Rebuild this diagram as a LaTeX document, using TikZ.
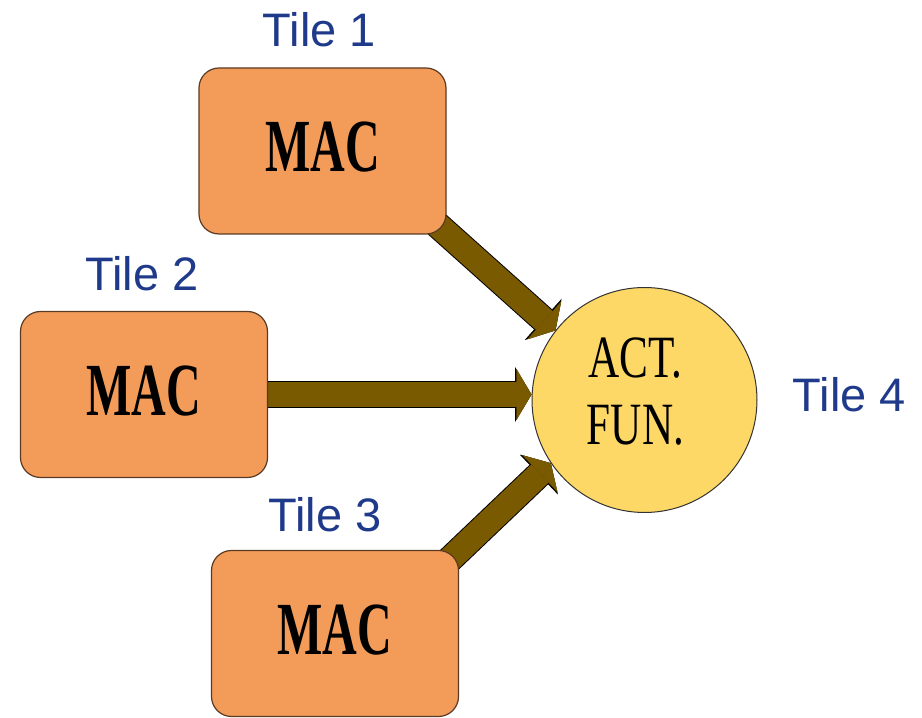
\documentclass[tikz,border=0pt]{standalone}
\usepackage{fontspec}
\setmainfont{Liberation Sans}
\newfontfamily\macfont[FakeStretch=0.64]{Liberation Serif}
\newfontfamily\actfont[FakeStretch=0.72]{Liberation Serif}
\usepackage{tikz}
\usetikzlibrary{arrows.meta}
\pgfdeclarelayer{background}
\pgfsetlayers{background,main}
\definecolor{macorange}{HTML}{F39C5A}
\definecolor{macborder}{HTML}{5A3A22}
\definecolor{actyellow}{HTML}{FDD866}
\definecolor{arrowbrown}{HTML}{7A5A00}
\definecolor{tileblue}{HTML}{1F3A8A}

\begin{document}
\begin{tikzpicture}
  [
    x=1pt, y=1pt,
    node distance=121pt,
    mac node/.style={rectangle, rounded corners=20pt, draw=macborder, line width=1.2pt, fill=macorange, minimum width=247pt, minimum height=166pt, text depth=8pt, font=\macfont\bfseries\fontsize{75}{75}\selectfont},
    act node/.style={circle, draw=black!80, line width=1pt, fill=actyellow, minimum size=225pt, inner sep=0pt, align=center, text depth=18pt, font=\actfont\fontsize{60}{67}\selectfont},
    tile label/.style={text=tileblue, font=\fontsize{47}{47}\selectfont},
    block arrow/.style={draw=arrowbrown, line width=25pt,
      -{Triangle[length=15pt,width=51pt,line width=0.4pt,fill=arrowbrown,color=arrowbrown]},
      preaction={draw=black, line width=27pt,
        -{Triangle[length=16.5pt,width=55pt,line width=0.4pt,fill=black,color=black]}}}
    ]
  \useasboundingbox (0,0) rectangle (922,718);

  \node [mac node] (mac1) at (322.5,567) {MAC};
  \node [mac node] (mac2) at (144,323.5) {MAC};
  \node [mac node] (mac3) at (335,84.5) {MAC};
  \node [act node] (act) at (644.5,318) {ACT.\hspace*{18pt}\\FUN.\hspace*{18pt}};

  \node [tile label] (t1) [above of=mac1, xshift=-3pt] {Tile 1};
  \node [tile label] (t2) [above of=mac2, xshift=-2pt] {Tile 2};
  \node [tile label] (t3) [above of=mac3, xshift=-10pt, yshift=-2pt] {Tile 3};
  \node [tile label] (t4) [right of=act, node distance=205pt, yshift=5pt] {Tile 4};

  \begin{pgfonlayer}{background}
    \draw [block arrow] ([xshift=-15pt,yshift=15pt]mac1.south east) -- (act.142);
    \draw [block arrow] (mac2.east) -- (act.west |- mac2.east);
    \draw [block arrow] ([xshift=-15pt,yshift=-15pt]mac3.north east) -- (act.214);
  \end{pgfonlayer}
\end{tikzpicture}
\end{document}
